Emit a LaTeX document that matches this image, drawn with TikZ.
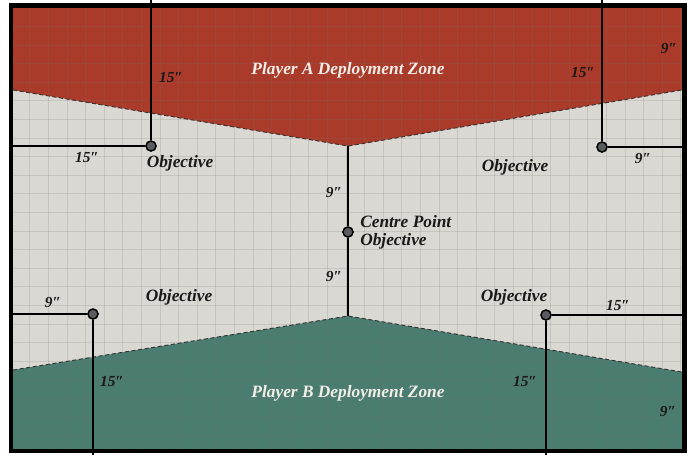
\documentclass[tikz,border=0pt]{standalone}
\usepackage{fontspec}
\setmainfont{Liberation Serif}
\definecolor{boardgrey}{RGB}{218,216,210}
\definecolor{zonered}{RGB}{170,58,42}
\definecolor{zonegreen}{RGB}{74,124,111}
\definecolor{labelink}{RGB}{28,24,24}
\definecolor{zonetext}{RGB}{242,238,232}
\definecolor{objgrey}{RGB}{90,92,96}
\definecolor{gridcol}{RGB}{120,118,112}
\begin{document}
\begin{tikzpicture}[x=0.75pt,y=-0.75pt,
  lbl/.style={font=\bfseries\itshape\fontsize{13}{13.5}\selectfont, text=labelink, inner sep=0pt},
  dimlbl/.style={font=\bfseries\itshape\fontsize{11.5}{13}\selectfont, text=labelink, inner sep=0pt},
  zonelbl/.style={font=\bfseries\itshape\fontsize{13}{15}\selectfont, text=zonetext, inner sep=0pt},
  obj/.style={circle, draw=black, line width=1.1pt, fill=objgrey, minimum size=7.6pt, inner sep=0pt},
  meas/.style={draw=black, line width=1.1pt},
  zoneedge/.style={draw=black!80, line width=0.7pt, dash pattern=on 3pt off 2pt},
  gridline/.style={draw=gridcol, opacity=0.2, line width=0.6pt}
]
\useasboundingbox (0,0) rectangle (690,455);
\fill[white] (0,0) rectangle (690,455);
% board
\fill[boardgrey] (13,8) rectangle (682,449);
\fill[zonered] (13,8) -- (682,8) -- (682,90) -- (348,146) -- (13,90) -- cycle;
\fill[zonegreen] (13,449) -- (682,449) -- (682,372) -- (348,316) -- (13,370) -- cycle;
% grid
\begin{scope}
\clip (13,8) rectangle (682,449);
\foreach \i in {0,...,36} \draw[gridline] ({11.1+\i*18.6},8) -- ({11.1+\i*18.6},449);
\foreach \j in {0,...,24} \draw[gridline] (13,{7.8+\j*18.6}) -- (682,{7.8+\j*18.6});
\end{scope}
% zone edges
\draw[zoneedge] (13,90) -- (348,146) -- (682,90);
\draw[zoneedge] (13,370) -- (348,316) -- (682,372);
% frame
\draw[black, line width=3.5pt] (11,5.5) rectangle (684.5,451);
% objectives
\node[obj] (oTL) at (151,146) {};
\node[obj] (oTR) at (602,147) {};
\node[obj] (oBL) at (93,314) {};
\node[obj] (oBR) at (546,315) {};
\node[obj] (oC) at (348,232) {};
% measurement ends
\coordinate (tlTop) at (151,0);
\coordinate (tlLeft) at (13,146);
\coordinate (trTop) at (602,0);
\coordinate (trRight) at (684,147);
\coordinate (blLeft) at (13,314);
\coordinate (blBot) at (93,455);
\coordinate (brRight) at (686,315);
\coordinate (brBot) at (546,455);
\coordinate (cTop) at (348,146);
\coordinate (cBot) at (348,316);
\draw[meas] (oTL) -- (tlTop);
\draw[meas] (oTL) -- (tlLeft);
\draw[meas] (oTR) -- (trTop);
\draw[meas] (oTR) -- (trRight);
\draw[meas] (oBL) -- (blLeft);
\draw[meas] (oBL) -- (blBot);
\draw[meas] (oBR) -- (brRight);
\draw[meas] (oBR) -- (brBot);
\draw[meas] (cTop) -- (oC);
\draw[meas] (oC) -- (cBot);
% zone labels
\node[zonelbl] (zA) at (348,70) {Player A Deployment Zone};
\node[zonelbl] (zB) at (348,393) {Player B Deployment Zone};
% objective labels
\node[lbl] (lTL) at (180,163) {Objective};
\node[lbl] (lTR) at (515,167) {Objective};
\node[lbl] (lBL) at (179,297) {Objective};
\node[lbl] (lBR) at (514,297) {Objective};
\node[lbl, anchor=west, align=left] (lC) at (360,232) {Centre Point\\Objective};
% distance labels
\node[dimlbl] (d1) at (171,78) {15″};
\node[dimlbl] (d2) at (87,158) {15″};
\node[dimlbl] (d3) at (583,73) {15″};
\node[dimlbl] (d4) at (669,48) {9″};
\node[dimlbl] (d5) at (643,158) {9″};
\node[dimlbl] (d6) at (53,302) {9″};
\node[dimlbl] (d7) at (112,382) {15″};
\node[dimlbl] (d8) at (618,306) {15″};
\node[dimlbl] (d9) at (525,382) {15″};
\node[dimlbl] (d10) at (668,411) {9″};
\node[dimlbl] (d11) at (334,192) {9″};
\node[dimlbl] (d12) at (334,276) {9″};
\end{tikzpicture}
\end{document}
